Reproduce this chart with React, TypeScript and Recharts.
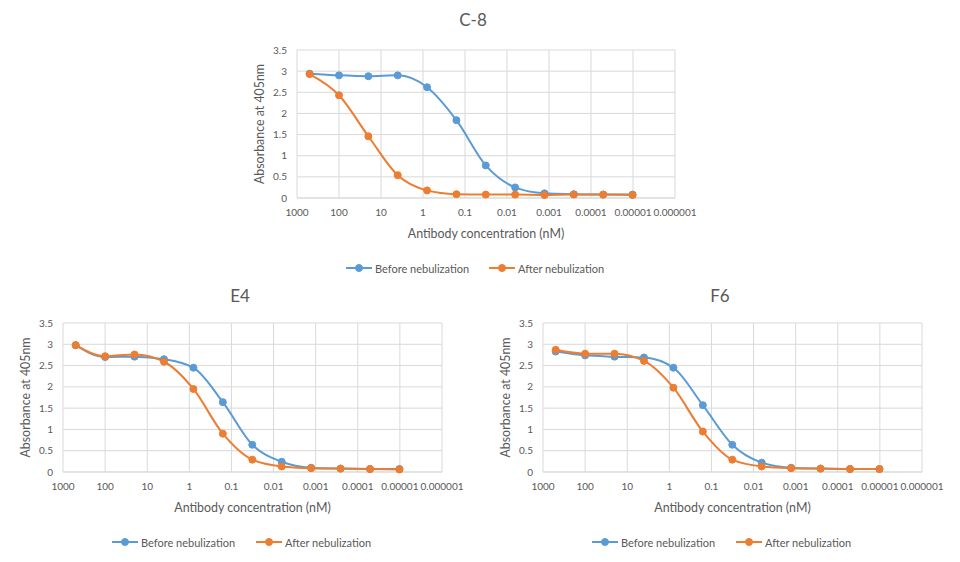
import React from 'react';
import { LineChart, Line, XAxis, YAxis, CartesianGrid } from 'recharts';

const concentrations = [500, 100, 20, 4, 0.8, 0.16, 0.032, 0.0064, 0.00128, 0.000256, 0.0000512, 0.00001024];
const xTicks = [1000, 100, 10, 1, 0.1, 0.01, 0.001, 0.0001, 0.00001, 0.000001];
const xTickLabels = ['1000', '100', '10', '1', '0.1', '0.01', '0.001', '0.0001', '0.00001', '0.000001'];
const yTicks = [0, 0.5, 1, 1.5, 2, 2.5, 3, 3.5];
const yTickLabels = ['0', '0.5', '1', '1.5', '2', '2.5', '3', '3.5'];

const c8Before = [2.94, 2.9, 2.88, 2.9, 2.62, 1.84, 0.77, 0.25, 0.11, 0.09, 0.08, 0.08];
const c8After = [2.93, 2.43, 1.46, 0.54, 0.18, 0.09, 0.08, 0.08, 0.07, 0.08, 0.08, 0.07];
const e4Before = [2.98, 2.7, 2.71, 2.65, 2.45, 1.64, 0.64, 0.24, 0.1, 0.08, 0.07, 0.07];
const e4After = [2.98, 2.72, 2.76, 2.59, 1.95, 0.9, 0.29, 0.13, 0.09, 0.08, 0.07, 0.06];
const f6Before = [2.83, 2.74, 2.71, 2.69, 2.45, 1.57, 0.64, 0.22, 0.1, 0.08, 0.07, 0.07];
const f6After = [2.87, 2.78, 2.78, 2.61, 1.98, 0.95, 0.29, 0.13, 0.09, 0.08, 0.07, 0.07];

const BLUE = '#5B9BD5';
const ORANGE = '#ED7D31';
const TEXT = '#595959';
const GRID = '#d9d9d9';
const FONT = 'Lato, "Open Sans", sans-serif';

function fmtX(v: number) {
  const i = xTicks.findIndex((t) => Math.abs(Math.log10(t) - Math.log10(v)) < 1e-6);
  return i >= 0 ? xTickLabels[i] : String(v);
}
function fmtY(v: number) {
  const i = yTicks.findIndex((t) => Math.abs(t - v) < 1e-9);
  return i >= 0 ? yTickLabels[i] : String(v);
}

type PanelProps = {
  title: string;
  before: number[];
  after: number[];
  left: number;
  top: number;
  width: number;
  height: number;
  plotLeft: number;
  plotRight: number;
  plotTop: number;
  plotBottom: number;
  titleX: number;
  titleY: number;
  legendY: number;
  legendBlueX: number;
  legendOrangeX: number;
};

function LegendItem({ x, y, color, label }: { x: number; y: number; color: string; label: string }) {
  return (
    <div
      style={{
        position: 'absolute',
        left: x,
        top: y - 8,
        height: 16,
        display: 'flex',
        alignItems: 'center',
        fontFamily: FONT,
        fontSize: 11,
        color: TEXT,
        whiteSpace: 'nowrap',
      }}
    >
      <svg width={29} height={16} style={{ display: 'block' }}>
        <line x1={0} y1={8} x2={26} y2={8} stroke={color} strokeWidth={2} />
        <circle cx={13} cy={8} r={3.5} fill={color} stroke={color} />
      </svg>
      <span>{label}</span>
    </div>
  );
}

function Panel(p: PanelProps) {
  const data = concentrations.map((c, i) => ({ conc: c, before: p.before[i], after: p.after[i] }));
  const yAxisWidth = 52;
  const marginLeft = p.plotLeft - yAxisWidth;
  const xAxisHeight = 45;
  const margin = {
    top: p.plotTop,
    right: p.width - p.plotRight,
    left: marginLeft,
    bottom: p.height - p.plotBottom - xAxisHeight,
  };
  const tickStyle = { fill: TEXT, fontSize: 10, fontFamily: FONT };
  return (
    <div style={{ position: 'absolute', left: p.left, top: p.top, width: p.width, height: p.height }}>
      <div
        style={{
          position: 'absolute',
          left: p.titleX - 100,
          width: 200,
          top: p.titleY - 12,
          textAlign: 'center',
          fontFamily: FONT,
          fontSize: 17,
          color: TEXT,
          lineHeight: '24px',
        }}
      >
        {p.title}
      </div>
      <LineChart width={p.width} height={p.height} data={data} margin={margin}>
        <CartesianGrid stroke={GRID} strokeWidth={1} />
        <XAxis
          dataKey="conc"
          type="number"
          scale="log"
          domain={[0.000001, 1000]}
          reversed
          ticks={xTicks}
          interval={0}
          tickFormatter={fmtX}
          tick={tickStyle}
          tickLine={false}
          axisLine={{ stroke: GRID }}
          tickMargin={5}
          height={xAxisHeight}
          allowDataOverflow
          label={{
            value: 'Antibody concentration (nM)',
            position: 'insideBottom',
            offset: 5,
            style: { fill: TEXT, fontSize: 12.4, fontFamily: FONT },
          }}
        />
        <YAxis
          type="number"
          domain={[0, 3.5]}
          ticks={yTicks}
          interval={0}
          tickFormatter={fmtY}
          tick={tickStyle}
          tickLine={false}
          axisLine={false}
          tickMargin={4}
          width={yAxisWidth}
          label={{
            value: 'Absorbance at 405nm',
            angle: -90,
            position: 'insideLeft',
            offset: 15,
            style: { fill: TEXT, fontSize: 12.4, fontFamily: FONT, textAnchor: 'middle' },
          }}
        />
        <Line
          type="monotone"
          dataKey="before"
          stroke={BLUE}
          strokeWidth={2}
          dot={{ r: 3.5, fill: BLUE, stroke: BLUE, strokeWidth: 1 }}
          activeDot={false}
          isAnimationActive={false}
        />
        <Line
          type="monotone"
          dataKey="after"
          stroke={ORANGE}
          strokeWidth={2}
          dot={{ r: 3.5, fill: ORANGE, stroke: ORANGE, strokeWidth: 1 }}
          activeDot={false}
          isAnimationActive={false}
        />
      </LineChart>
      <LegendItem x={p.legendBlueX} y={p.legendY} color={BLUE} label="Before nebulization" />
      <LegendItem x={p.legendOrangeX} y={p.legendY} color={ORANGE} label="After nebulization" />
    </div>
  );
}

export default function App() {
  return (
    <div style={{ position: 'absolute', left: 0, top: 0, width: 960, height: 562, background: '#fff' }}>
      <Panel
        title="C-8"
        before={c8Before}
        after={c8After}
        left={240}
        top={0}
        width={480}
        height={280}
        plotLeft={57}
        plotRight={435}
        plotTop={50}
        plotBottom={198}
        titleX={233}
        titleY={20}
        legendY={268}
        legendBlueX={106}
        legendOrangeX={249}
      />
      <Panel
        title="E4"
        before={e4Before}
        after={e4After}
        left={0}
        top={280}
        width={480}
        height={282}
        plotLeft={63}
        plotRight={442}
        plotTop={43}
        plotBottom={192}
        titleX={240}
        titleY={16}
        legendY={262}
        legendBlueX={112}
        legendOrangeX={256}
      />
      <Panel
        title="F6"
        before={f6Before}
        after={f6After}
        left={480}
        top={280}
        width={480}
        height={282}
        plotLeft={63}
        plotRight={442}
        plotTop={43}
        plotBottom={192}
        titleX={240}
        titleY={16}
        legendY={262}
        legendBlueX={112}
        legendOrangeX={256}
      />
    </div>
  );
}
